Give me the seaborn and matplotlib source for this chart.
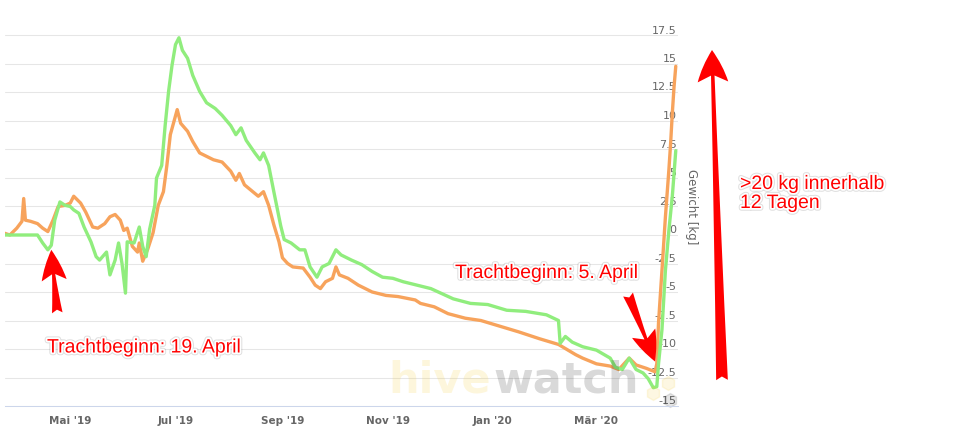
import pandas as pd
import matplotlib.pyplot as plt
import matplotlib.patheffects as pe
import seaborn as sns

# Stockwaage 1 (gruen) und Stockwaage 2 (orange), Gewichtsverlauf in kg
green_dates = ["2019-03-24", "2019-04-12", "2019-04-15", "2019-04-18", "2019-04-20", "2019-04-22",
               "2019-04-25", "2019-04-28", "2019-05-01", "2019-05-03", "2019-05-06", "2019-05-09",
               "2019-05-13", "2019-05-16", "2019-05-18", "2019-05-22", "2019-05-24", "2019-05-27",
               "2019-05-29", "2019-05-31", "2019-06-02", "2019-06-03", "2019-06-07", "2019-06-10",
               "2019-06-12", "2019-06-14", "2019-06-16", "2019-06-19", "2019-06-20", "2019-06-23",
               "2019-06-25", "2019-06-27", "2019-06-29", "2019-07-01", "2019-07-03", "2019-07-05",
               "2019-07-08", "2019-07-11", "2019-07-15", "2019-07-19", "2019-07-24", "2019-07-28",
               "2019-08-02", "2019-08-05", "2019-08-08", "2019-08-11", "2019-08-16", "2019-08-19",
               "2019-08-21", "2019-08-24", "2019-08-27", "2019-08-31", "2019-09-02", "2019-09-06",
               "2019-09-11", "2019-09-14", "2019-09-17", "2019-09-21", "2019-09-24", "2019-09-28",
               "2019-10-02", "2019-10-05", "2019-10-11", "2019-10-17", "2019-10-23", "2019-10-29",
               "2019-11-04", "2019-11-10", "2019-11-18", "2019-11-26", "2019-12-09", "2019-12-19",
               "2019-12-29", "2020-01-09", "2020-01-20", "2020-02-01", "2020-02-08", "2020-02-09",
               "2020-02-12", "2020-02-16", "2020-02-22", "2020-03-01", "2020-03-09", "2020-03-12",
               "2020-03-16", "2020-03-20", "2020-03-24", "2020-03-28", "2020-03-31", "2020-04-03",
               "2020-04-05", "2020-04-06", "2020-04-08", "2020-04-10", "2020-04-12", "2020-04-14",
               "2020-04-16"]
green_kg = [0.0, 0.0, -0.7, -1.3, -0.9, 1.3,
            2.9, 2.6, 2.5, 2.2, 1.9, 0.7,
            -0.6, -1.9, -2.2, -1.5, -3.5, -2.2,
            -0.7, -2.5, -5.1, -0.6, -0.7, 0.7,
            -1.0, -1.9, 0.5, 2.6, 5.0, 6.1,
            9.6, 12.6, 14.9, 16.7, 17.3, 16.2,
            15.5, 14.0, 12.6, 11.6, 11.1, 10.5,
            9.6, 8.8, 9.4, 8.3, 7.2, 6.6,
            7.2, 6.1, 3.8, 0.8, -0.4, -0.7,
            -1.3, -1.3, -2.8, -3.7, -2.8, -2.5,
            -1.3, -1.75, -2.2, -2.6, -3.2, -3.7,
            -3.8, -4.1, -4.4, -4.7, -5.6, -6.0,
            -6.1, -6.6, -6.7, -7.0, -7.5, -9.5,
            -8.9, -9.4, -9.8, -10.1, -10.8, -11.6,
            -11.8, -10.8, -11.8, -12.1, -12.6, -13.4,
            -13.3, -11.3, -8.3, -3.1, 0.4, 3.4,
            7.4]

orange_dates = ["2019-03-24", "2019-03-27", "2019-03-31", "2019-04-03", "2019-04-04", "2019-04-05",
                "2019-04-08", "2019-04-12", "2019-04-15", "2019-04-18", "2019-04-21", "2019-04-24",
                "2019-04-28", "2019-05-01", "2019-05-03", "2019-05-07", "2019-05-10", "2019-05-14",
                "2019-05-17", "2019-05-21", "2019-05-24", "2019-05-27", "2019-05-30", "2019-06-01",
                "2019-06-03", "2019-06-06", "2019-06-09", "2019-06-10", "2019-06-12", "2019-06-15",
                "2019-06-18", "2019-06-21", "2019-06-24", "2019-06-26", "2019-06-28", "2019-06-30",
                "2019-07-02", "2019-07-04", "2019-07-08", "2019-07-11", "2019-07-15", "2019-07-19",
                "2019-07-23", "2019-07-28", "2019-08-02", "2019-08-05", "2019-08-07", "2019-08-10",
                "2019-08-14", "2019-08-18", "2019-08-21", "2019-08-24", "2019-08-27", "2019-08-30",
                "2019-09-01", "2019-09-04", "2019-09-07", "2019-09-13", "2019-09-17", "2019-09-20",
                "2019-09-23", "2019-09-26", "2019-09-30", "2019-10-02", "2019-10-04", "2019-10-09",
                "2019-10-15", "2019-10-23", "2019-10-31", "2019-11-07", "2019-11-17", "2019-11-20",
                "2019-11-28", "2019-12-06", "2019-12-16", "2019-12-25", "2020-01-05", "2020-01-16",
                "2020-01-28", "2020-02-08", "2020-02-18", "2020-02-22", "2020-03-01", "2020-03-09",
                "2020-03-14", "2020-03-20", "2020-03-24", "2020-03-30", "2020-04-04", "2020-04-05",
                "2020-04-06", "2020-04-08", "2020-04-10", "2020-04-12", "2020-04-13", "2020-04-14",
                "2020-04-15", "2020-04-16"]
orange_kg = [0.15, 0.0, 0.6, 1.2, 3.2, 1.3,
             1.2, 1.0, 0.6, 0.3, 1.3, 2.5,
             2.6, 2.8, 3.4, 2.8, 2.0, 0.7,
             0.6, 1.0, 1.6, 1.8, 1.3, 0.4,
             0.6, -1.0, -1.5, -0.7, -2.3, -1.2,
             0.2, 2.6, 3.8, 6.1, 8.8, 9.9,
             11.0, 9.8, 9.1, 8.2, 7.2, 6.9,
             6.6, 6.4, 5.6, 4.8, 5.4, 4.4,
             3.9, 3.4, 3.8, 2.6, 0.9, -0.6,
             -2.0, -2.5, -2.8, -2.9, -3.7, -4.4,
             -4.7, -4.1, -3.8, -2.8, -3.5, -3.8,
             -4.4, -5.0, -5.3, -5.4, -5.7, -6.0,
             -6.3, -6.9, -7.3, -7.5, -8.0, -8.5,
             -9.1, -9.6, -10.5, -10.8, -11.3, -11.5,
             -11.8, -10.8, -11.4, -11.7, -12.0, -11.3,
             -7.7, -3.1, 1.6, 5.7, 8.0, 10.7,
             13.0, 14.8]

tick_dates = ["2019-05-01", "2019-07-01", "2019-09-01", "2019-11-01", "2020-01-01", "2020-03-01"]
tick_labels = ["Mai '19", "Jul '19", "Sep '19", "Nov '19", "Jan '20", "Mär '20"]
y_ticks = [-15, -12.5, -10, -7.5, -5, -2.5, 0, 2.5, 5, 7.5, 10, 12.5, 15, 17.5]
y_tick_labels = ["-15", "-12.5", "-10", "-7.5", "-5", "-2.5", "0", "2.5", "5", "7.5",
                 "10", "12.5", "15", "17.5"]

df = pd.concat([
    pd.DataFrame({"Datum": pd.to_datetime(orange_dates), "Gewicht": orange_kg, "Waage": "Waage 2"}),
    pd.DataFrame({"Datum": pd.to_datetime(green_dates), "Gewicht": green_kg, "Waage": "Waage 1"}),
])

sns.set_style("white")
plt.rcParams['font.family'] = ['DejaVu Sans']

fig = plt.figure(figsize=(9.62, 4.36), dpi=100)
ax = fig.add_axes([5 / 962, 30 / 436, 673 / 962, 399 / 436])

sns.lineplot(data=df, x="Datum", y="Gewicht", hue="Waage",
             hue_order=["Waage 2", "Waage 1"],
             palette={"Waage 2": "#f7a35c", "Waage 1": "#90ed7d"},
             estimator=None, linewidth=2.4, legend=False, ax=ax)

ax.set_xlim(pd.Timestamp("2019-03-24 04:00"), pd.Timestamp("2020-04-17 07:00"))
ax.set_ylim(-15, 20)

ax.set_xticks(pd.to_datetime(tick_dates), tick_labels, fontweight="bold")
ax.set_yticks(y_ticks, y_tick_labels)
ax.set_xlabel("")

ax.yaxis.grid(True, color="#e6e6e6", linewidth=0.75)
ax.xaxis.grid(False)
for side in ["top", "left", "right"]:
    ax.spines[side].set_visible(False)
ax.spines["bottom"].set_color("#ccd6eb")
ax.spines["bottom"].set_linewidth(0.75)

ax.tick_params(axis="x", direction="out", length=6.5, width=0.75, color="#ccd6eb",
               pad=1, labelsize=7.5, labelcolor="#666666")
ax.yaxis.tick_right()
ax.tick_params(axis="y", length=0, pad=-1, labelsize=8, labelcolor="#666666")
for lab in ax.get_yticklabels():
    lab.set_ha("right")
    lab.set_va("bottom")

ax.set_ylabel("Gewicht [kg]", rotation=270, color="#666666", fontsize=8.5,
              ha="center", va="center")
ax.yaxis.set_label_coords((692 - 5) / 673, 0.5)

# Wasserzeichen
fig.text(491 / 962, 1 - 392 / 436, "hive", ha="right", va="baseline", fontsize=31,
         fontweight="bold", color="#f5c518", alpha=0.15)
fig.text(493 / 962, 1 - 392 / 436, "watch", ha="left", va="baseline", fontsize=31,
         fontweight="bold", color="black", alpha=0.15)
ax.plot([653 / 962, 668 / 962], [1 - 393 / 436, 1 - 383 / 436], "h", color="#f5c518",
        alpha=0.12, markersize=10, transform=fig.transFigure, clip_on=False)
ax.plot([670 / 962], [1 - 400 / 436], "h", color="black", alpha=0.1,
        markersize=10, transform=fig.transFigure, clip_on=False)

# Pfeile
arrow_small = dict(arrowstyle="fancy,head_length=1.1,head_width=0.9,tail_width=0.38",
                   mutation_scale=20, color="red", shrinkA=0, shrinkB=0, lw=0)
ax.annotate("", xy=(pd.Timestamp("2019-04-20"), -1.3), xycoords="data",
            xytext=(6, -63), textcoords="offset pixels", arrowprops=arrow_small)
ax.annotate("", xy=(pd.Timestamp("2020-04-04"), -11.1), xycoords="data",
            xytext=(-27, 67), textcoords="offset pixels", arrowprops=arrow_small)
ax.annotate("", xy=(712, 386), xycoords="figure pixels",
            xytext=(722, 56), textcoords="figure pixels",
            arrowprops=dict(arrowstyle="fancy,head_length=1.15,head_width=1.1,tail_width=0.42",
                            mutation_scale=20, color="red", shrinkA=0, shrinkB=0, lw=0))

# Beschriftungen
halo = [pe.Stroke(linewidth=4, foreground=(0, 0, 0, 0.12)),
        pe.Stroke(linewidth=2.5, foreground="white"), pe.Normal()]
text_style = dict(fontsize=14, color="red", family="Liberation Sans",
                  ha="left", va="baseline", path_effects=halo)
fig.text(47 / 962, 1 - 352.5 / 436, "Trachtbeginn: 19. April", **text_style)
fig.text(455 / 962, 1 - 278 / 436, "Trachtbeginn: 5. April", **text_style)
fig.text(740 / 962, 1 - 189 / 436, ">20 kg innerhalb", **text_style)
fig.text(740 / 962, 1 - 208 / 436, "12 Tagen", **text_style)

fig.savefig("out.png", dpi=100)
